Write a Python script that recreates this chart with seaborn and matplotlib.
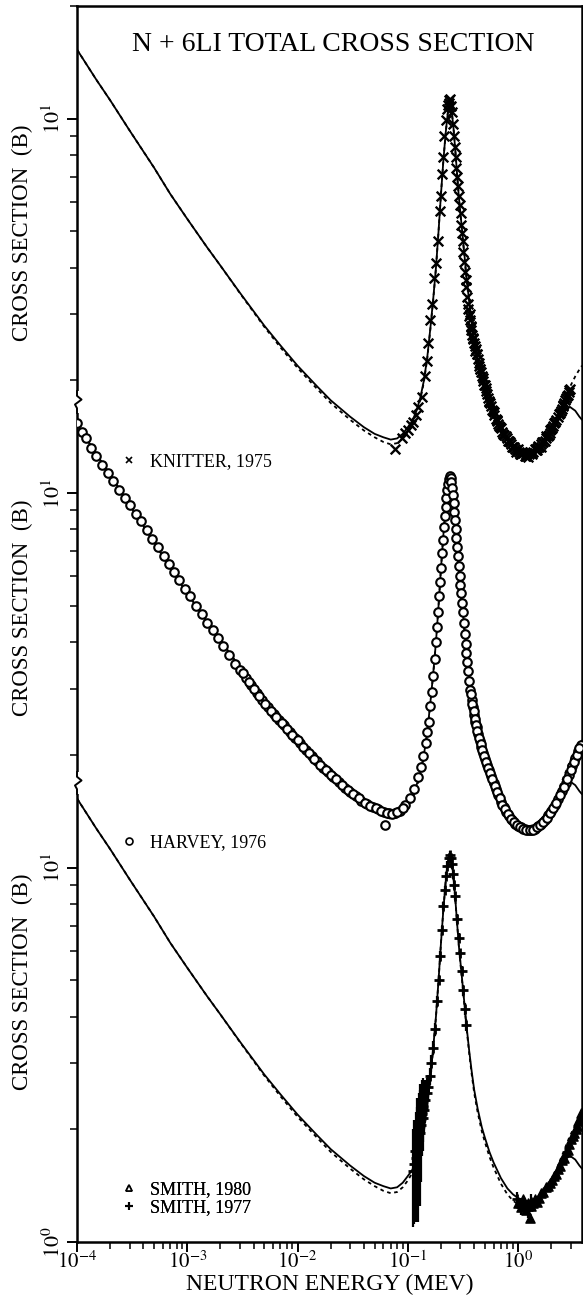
import numpy as np
import pandas as pd
import matplotlib
matplotlib.use("Agg")
import matplotlib.pyplot as plt
import matplotlib.transforms as mtransforms
from matplotlib.lines import Line2D
from matplotlib.patches import Rectangle
from matplotlib.ticker import FixedLocator, FixedFormatter, LogLocator, NullFormatter
import seaborn as sns

# ---------------- data (energies in MeV, cross sections in barns) ----------------
CURVE_E = [1e-4, 1.5e-4, 2e-4, 3e-4, 5e-4, 7e-4, 1e-3, 1.5e-3, 2e-3, 3e-3, 5e-3, 7e-3,
           1e-2, 1.5e-2, 2e-2, 3e-2, 4e-2, 5e-2, 6e-2, 7e-2, 8e-2, 9e-2,
           0.10, 0.11, 0.12, 0.13, 0.14, 0.15, 0.16, 0.17, 0.18, 0.19, 0.20, 0.21, 0.22,
           0.23, 0.24, 0.25, 0.26, 0.27, 0.28, 0.29, 0.30,
           0.32, 0.34, 0.36, 0.38, 0.40, 0.43, 0.47, 0.50, 0.55, 0.60,
           0.7, 0.8, 0.9, 1.0, 1.2, 1.4, 1.6, 1.8, 2.0, 2.3, 2.6, 2.95, 3.3, 3.6, 3.8]
CURVE_SOLID = [15.3, 12.7, 11.2, 9.3, 7.4, 6.3, 5.4, 4.55, 4.05, 3.43, 2.80, 2.48,
               2.19, 1.93, 1.77, 1.60, 1.50, 1.44, 1.41, 1.39, 1.40, 1.44,
               1.50, 1.56, 1.66, 1.80, 2.0, 2.3, 2.75, 3.3, 4.0, 5.0, 6.3, 7.7, 9.1,
               10.3, 10.9, 10.5, 9.4, 8.2, 7.1, 6.2, 5.6,
               4.6, 3.8, 3.25, 2.85, 2.55, 2.27, 2.02, 1.9, 1.74, 1.63,
               1.48, 1.39, 1.34, 1.31, 1.285, 1.30, 1.34, 1.40, 1.46, 1.56, 1.65, 1.70, 1.66, 1.60, 1.57]
CURVE_DOTTED = [15.3, 12.7, 11.2, 9.3, 7.4, 6.3, 5.4, 4.55, 4.05, 3.42, 2.78, 2.45,
                2.16, 1.90, 1.74, 1.57, 1.47, 1.41, 1.37, 1.35, 1.36, 1.40,
                1.46, 1.53, 1.63, 1.78, 1.98, 2.28, 2.73, 3.28, 3.98, 5.0, 6.3, 7.7, 9.1,
                10.3, 10.9, 10.5, 9.4, 8.2, 7.1, 6.2, 5.55,
                4.55, 3.75, 3.2, 2.8, 2.5, 2.22, 1.97, 1.85, 1.69, 1.58,
                1.43, 1.34, 1.29, 1.26, 1.245, 1.265, 1.31, 1.38, 1.46, 1.60, 1.75, 1.92, 2.05, 2.14, 2.19]

KNITTER_1975 = [
    (0.0766, 1.31), (0.088, 1.40), (0.094, 1.45), (0.100, 1.47), (0.106, 1.52), (0.112, 1.55),
    (0.118, 1.62), (0.125, 1.70), (0.134, 1.81), (0.142, 2.05), (0.148, 2.25), (0.154, 2.52),
    (0.160, 2.90), (0.167, 3.20), (0.174, 3.76), (0.181, 4.13), (0.186, 4.70), (0.194, 5.66),
    (0.199, 6.2), (0.204, 7.1), (0.208, 7.9), (0.215, 9.0), (0.221, 9.9), (0.226, 10.6),
    (0.231, 10.9), (0.234, 11.2), (0.238, 11.0), (0.242, 11.3), (0.246, 10.8), (0.250, 10.4),
    (0.256, 9.7), (0.262, 9.0), (0.267, 8.4), (0.271, 7.9), (0.276, 7.4), (0.281, 7.0),
    (0.287, 6.6), (0.293, 6.2), (0.298, 5.9), (0.302, 5.6), (0.306, 5.2), (0.309, 4.95),
    (0.314, 4.7), (0.319, 4.4), (0.324, 4.15), (0.330, 3.9), (0.335, 3.7), (0.340, 3.55),
    (0.345, 3.35), (0.350, 3.2), (0.355, 3.1), (0.360, 2.98), (0.366, 2.9), (0.372, 2.8),
    (0.378, 2.72), (0.384, 2.65), (0.390, 2.58), (0.397, 2.52), (0.404, 2.47), (0.412, 2.42),
    (0.420, 2.36), (0.430, 2.28), (0.440, 2.22), (0.450, 2.15), (0.460, 2.10), (0.470, 2.05),
    (0.485, 1.99), (0.500, 1.94), (0.515, 1.87), (0.535, 1.80), (0.550, 1.75), (0.570, 1.71),
    (0.590, 1.66), (0.610, 1.62), (0.640, 1.57), (0.660, 1.53), (0.690, 1.50), (0.720, 1.46),
    (0.750, 1.43), (0.790, 1.40), (0.820, 1.38), (0.860, 1.35), (0.900, 1.33), (0.940, 1.31),
    (0.980, 1.30), (1.02, 1.29), (1.07, 1.27), (1.12, 1.28), (1.17, 1.26), (1.21, 1.28),
    (1.26, 1.27), (1.32, 1.28), (1.38, 1.29), (1.44, 1.30), (1.50, 1.32), (1.56, 1.33),
    (1.63, 1.35), (1.70, 1.37), (1.78, 1.40), (1.85, 1.42), (1.93, 1.45), (2.00, 1.48),
    (2.08, 1.51), (2.17, 1.55), (2.28, 1.60), (2.38, 1.64), (2.48, 1.68), (2.58, 1.72),
    (2.68, 1.77), (2.78, 1.82), (2.88, 1.86), (2.96, 1.90),
    (0.363, 3.00), (0.375, 2.78), (0.393, 2.60), (0.408, 2.40), (0.425, 2.35), (0.445, 2.18),
    (0.455, 2.14), (0.478, 2.03), (0.492, 1.95), (0.508, 1.91), (0.525, 1.84), (0.542, 1.76),
    (0.560, 1.74), (0.580, 1.67), (0.600, 1.65), (0.625, 1.58), (0.650, 1.56), (0.675, 1.51),
    (0.705, 1.49), (0.735, 1.44), (0.770, 1.42), (0.805, 1.38), (0.840, 1.37), (0.880, 1.33),
    (0.920, 1.33), (0.960, 1.29), (1.00, 1.31), (1.045, 1.27), (1.095, 1.29), (1.145, 1.26),
    (1.19, 1.27), (1.235, 1.25), (1.29, 1.29), (1.35, 1.27), (1.41, 1.31), (1.47, 1.30),
    (1.53, 1.34), (1.60, 1.33), (1.66, 1.37), (1.74, 1.38), (1.81, 1.42), (1.89, 1.43),
    (1.96, 1.47), (2.04, 1.49), (2.12, 1.54), (2.22, 1.57), (2.33, 1.63), (2.43, 1.66),
    (2.53, 1.71), (2.63, 1.74), (2.73, 1.80), (2.83, 1.83), (2.92, 1.89)]

HARVEY_1976 = [
    (1.0e-4, 15.4), (1.1e-4, 14.6), (1.2e-4, 14.0), (1.35e-4, 13.2), (1.5e-4, 12.6), (1.7e-4, 11.9),
    (1.9e-4, 11.3), (2.1e-4, 10.8), (2.4e-4, 10.2), (2.7e-4, 9.7), (3.0e-4, 9.3), (3.4e-4, 8.8),
    (3.8e-4, 8.4), (4.3e-4, 7.95), (4.8e-4, 7.55), (5.4e-4, 7.2), (6.1e-4, 6.8), (6.8e-4, 6.45),
    (7.6e-4, 6.15), (8.5e-4, 5.85), (9.5e-4, 5.55), (1.06e-3, 5.3), (1.2e-3, 5.0), (1.35e-3, 4.75),
    (1.5e-3, 4.5), (1.7e-3, 4.3), (1.9e-3, 4.1), (2.1e-3, 3.9), (2.4e-3, 3.7), (2.7e-3, 3.5),
    (3.0e-3, 3.37), (3.4e-3, 3.2), (3.8e-3, 3.07), (4.3e-3, 2.93), (4.8e-3, 2.8), (5.4e-3, 2.68),
    (6.1e-3, 2.57), (6.8e-3, 2.48), (7.6e-3, 2.4), (8.5e-3, 2.3), (9.5e-3, 2.22), (1.06e-2, 2.15),
    (1.2e-2, 2.06), (1.35e-2, 1.98), (1.5e-2, 1.92), (1.7e-2, 1.85), (1.9e-2, 1.8), (2.1e-2, 1.75),
    (2.4e-2, 1.69), (2.7e-2, 1.63), (3.0e-2, 1.59), (3.4e-2, 1.55), (3.8e-2, 1.51), (4.3e-2, 1.48),
    (4.8e-2, 1.45), (5.4e-2, 1.43), (6.1e-2, 1.41), (6.22e-2, 1.30), (6.8e-2, 1.40), (7.6e-2, 1.40),
    (8.5e-2, 1.42), (9.5e-2, 1.47), (0.105, 1.53), (0.115, 1.62), (0.125, 1.75), (0.132, 1.86),
    (0.138, 1.98), (0.145, 2.15), (0.150, 2.3), (0.155, 2.45), (0.160, 2.7), (0.165, 2.95),
    (0.170, 3.25), (0.175, 3.6), (0.180, 4.0), (0.184, 4.4), (0.188, 4.8), (0.192, 5.3),
    (0.196, 5.8), (0.200, 6.3), (0.204, 6.9), (0.208, 7.5), (0.212, 8.1), (0.216, 8.7),
    (0.220, 9.2), (0.224, 9.7), (0.228, 10.2), (0.232, 10.6), (0.236, 10.9), (0.240, 11.1),
    (0.244, 11.0), (0.248, 10.7), (0.252, 10.3), (0.256, 9.9), (0.260, 9.4), (0.264, 8.9),
    (0.268, 8.5), (0.272, 8.0), (0.276, 7.6), (0.280, 7.2), (0.285, 6.8), (0.290, 6.4),
    (0.295, 6.0), (0.300, 5.7), (0.305, 5.4), (0.310, 5.1), (0.316, 4.8), (0.322, 4.5),
    (0.328, 4.2), (0.334, 3.95), (0.340, 3.75), (0.347, 3.55), (0.354, 3.35), (0.362, 3.15),
    (0.370, 2.98), (0.380, 2.8), (0.390, 2.68), (0.400, 2.56), (0.410, 2.45), (0.420, 2.37),
    (0.435, 2.27), (0.450, 2.18), (0.465, 2.1), (0.480, 2.02), (0.500, 1.95), (0.520, 1.88),
    (0.545, 1.82), (0.570, 1.76), (0.600, 1.68), (0.630, 1.62), (0.660, 1.56), (0.700, 1.50),
    (0.740, 1.45), (0.780, 1.41), (0.830, 1.37), (0.880, 1.34), (0.940, 1.31), (1.00, 1.29),
    (1.07, 1.28), (1.15, 1.27), (1.23, 1.26), (1.32, 1.26), (1.42, 1.27), (1.52, 1.29),
    (1.63, 1.31), (1.75, 1.34), (1.88, 1.38), (2.00, 1.42), (2.15, 1.47), (2.30, 1.52),
    (2.50, 1.60), (2.70, 1.68), (2.90, 1.77), (3.10, 1.87), (3.30, 1.96), (3.50, 2.05), (3.70, 2.12),
    (3.2e-3, 3.30), (3.6e-3, 3.13), (4.0e-3, 3.00), (4.5e-3, 2.87), (5.1e-3, 2.74), (5.7e-3, 2.62),
    (6.4e-3, 2.53), (7.2e-3, 2.44), (8.0e-3, 2.35), (9.0e-3, 2.26), (1.0e-2, 2.19), (1.13e-2, 2.10),
    (1.27e-2, 2.02), (1.42e-2, 1.95), (1.6e-2, 1.88), (1.8e-2, 1.82), (2.0e-2, 1.77), (2.25e-2, 1.72),
    (2.55e-2, 1.66), (2.85e-2, 1.61), (3.2e-2, 1.57), (3.6e-2, 1.53), (4.05e-2, 1.49), (4.55e-2, 1.46),
    (5.1e-2, 1.44), (5.75e-2, 1.42), (6.45e-2, 1.40), (7.2e-2, 1.39), (8.0e-2, 1.41), (9.0e-2, 1.44),
    (0.375, 2.90), (0.385, 2.74), (0.395, 2.62), (0.405, 2.50), (0.415, 2.41), (0.428, 2.32),
    (0.442, 2.22), (0.458, 2.14), (0.472, 2.06), (0.490, 1.98), (0.510, 1.91), (0.532, 1.85),
    (0.558, 1.79), (0.585, 1.72), (0.615, 1.65), (0.645, 1.59), (0.680, 1.53), (0.720, 1.47),
    (0.760, 1.43), (0.805, 1.39), (0.855, 1.35), (0.910, 1.32), (0.970, 1.30), (1.035, 1.28),
    (1.11, 1.27), (1.19, 1.26), (1.275, 1.26), (1.37, 1.26), (1.47, 1.28), (1.575, 1.30),
    (1.69, 1.32), (1.815, 1.36), (1.94, 1.40), (2.07, 1.44), (2.22, 1.49), (2.40, 1.56),
    (2.60, 1.64), (2.80, 1.72), (3.00, 1.82), (3.20, 1.91), (3.40, 2.00), (3.60, 2.09)]

SMITH_1977_E = [0.112, 0.114, 0.116, 0.118, 0.120, 0.122, 0.124, 0.126, 0.128, 0.130,
                0.132, 0.134, 0.136, 0.138, 0.141, 0.144, 0.148, 0.152, 0.158, 0.164,
                0.170, 0.176, 0.183, 0.190, 0.197, 0.204, 0.210, 0.216, 0.222, 0.228,
                0.234, 0.240, 0.246, 0.252, 0.258, 0.264, 0.270, 0.280, 0.290, 0.298,
                0.308, 0.319, 0.330, 0.340, 0.98, 1.06, 1.14, 1.22, 1.30]
SMITH_1977_S = [1.55, 1.62, 1.75, 1.68, 1.82, 1.90, 1.78, 2.00, 1.95, 2.10,
                2.05, 2.20, 2.15, 2.30, 2.25, 2.40, 2.50, 2.60, 2.77, 3.00,
                3.30, 3.70, 4.40, 5.00, 5.80, 6.80, 7.90, 8.70, 9.50, 10.1,
                10.6, 10.8, 10.6, 10.2, 9.6, 9.0, 8.4, 7.3, 6.5, 5.9,
                5.3, 4.7, 4.2, 3.8, 1.30, 1.24, 1.26, 1.22, 1.28]
SMITH_1977_ERR = [0.45, 0.50, 0.35, 0.55, 0.60, 0.40, 0.65, 0.50, 0.70, 0.45,
                  0.60, 0.50, 0.40, 0.45, 0.30, 0.30, 0.25, 0.20, 0.15, 0.15,
                  0.15, 0.15, 0.15, 0.15, 0.20, 0.20, 0.20, 0.25, 0.25, 0.30,
                  0.30, 0.30, 0.30, 0.30, 0.25, 0.25, 0.20, 0.20, 0.20, 0.15,
                  0.15, 0.15, 0.15, 0.15, 0.06, 0.06, 0.06, 0.06, 0.06]

SMITH_1980_E = [1.00, 1.06, 1.12, 1.18, 1.24, 1.285, 1.30, 1.36, 1.42, 1.48,
                1.55, 1.62, 1.70, 1.78, 1.86, 1.95, 2.04, 2.13, 2.22, 2.32,
                2.42, 2.52, 2.62, 2.72, 2.82, 2.92, 3.02, 3.12, 3.22, 3.32,
                3.42, 3.52, 3.62, 3.72]
SMITH_1980_S = [1.27, 1.24, 1.30, 1.22, 1.27, 1.16, 1.25, 1.27, 1.30, 1.28,
                1.31, 1.35, 1.36, 1.40, 1.41, 1.44, 1.46, 1.50, 1.52, 1.57,
                1.60, 1.66, 1.68, 1.74, 1.76, 1.83, 1.88, 1.92, 1.96, 2.00,
                2.04, 2.10, 2.15, 2.21]

PANEL_FACTORS = [100, 10, 1]          # top, middle, bottom panel offsets
Y_TICKS = [1, 10, 100, 1000]
Y_TICK_LABELS = ["$10^0$", "$10^1$", "$10^1$", "$10^1$"]
X_TICKS = [1e-4, 1e-3, 1e-2, 1e-1, 1e0]
X_TICK_LABELS = ["$10^{-4}$", "$10^{-3}$", "$10^{-2}$", "$10^{-1}$", "$10^{0}$"]

TITLE = "N + 6LI TOTAL CROSS SECTION"
XLABEL = "NEUTRON ENERGY (MEV)"
YLABEL = "CROSS SECTION  (B)"

# ---------------- styling ----------------
sns.set_theme(style="ticks")
plt.rcParams["font.family"] = ["Liberation Serif", "DejaVu Serif"]
plt.rcParams["mathtext.fontset"] = "stix"
plt.rcParams["axes.linewidth"] = 1.8

W, H = 583, 1301
fig = plt.figure(figsize=(W / 100, H / 100), dpi=100)
ax = fig.add_axes([77 / W, 1 - 1242 / H, 505 / W, 1236 / H])
ax.set_xscale("log")
ax.set_yscale("log")
ax.set_xlim(1e-4, 3.8)
ax.set_ylim(1, 2000)
for s in ax.spines.values():
    s.set_color("black")
    s.set_linewidth(1.8)

k_e = np.array([p[0] for p in KNITTER_1975]); k_s = np.array([p[1] for p in KNITTER_1975])
h_e = np.array([p[0] for p in HARVEY_1976]); h_s = np.array([p[1] for p in HARVEY_1976])
ce = np.array(CURVE_E)

for f in PANEL_FACTORS:
    sns.lineplot(x=ce, y=np.array(CURVE_DOTTED) * f, ax=ax, color="black", linewidth=1.3,
                 linestyle=(0, (2.0, 2.0)), zorder=2)
    sns.lineplot(x=ce, y=np.array(CURVE_SOLID) * f, ax=ax, color="black", linewidth=1.3, zorder=3)

f_top, f_mid, f_bot = PANEL_FACTORS
# top: Knitter
sns.scatterplot(x=k_e, y=k_s * f_top, ax=ax, marker="x", s=48, color="black", linewidth=1.7, zorder=4)
# middle: Harvey
sns.scatterplot(x=h_e, y=h_s * f_mid, ax=ax, marker="o", s=38, color="white",
                edgecolor="black", linewidth=1.5, zorder=4)
# bottom: Smith
s77_e = np.array(SMITH_1977_E); s77_s = np.array(SMITH_1977_S) * f_bot
ax.errorbar(s77_e, s77_s, yerr=np.array(SMITH_1977_ERR) * f_bot, fmt="none",
            ecolor="black", elinewidth=1.6, capsize=0, zorder=4)
sns.scatterplot(x=s77_e, y=s77_s, ax=ax, marker="+", s=60, color="black", linewidth=2.0, zorder=5)
sns.scatterplot(x=np.array(SMITH_1980_E), y=np.array(SMITH_1980_S) * f_bot, ax=ax, marker="^",
                s=44, color="black", edgecolor="black", linewidth=1.0, zorder=5)

# ---------------- axes / ticks ----------------
ax.xaxis.set_major_locator(FixedLocator(X_TICKS))
ax.xaxis.set_major_formatter(FixedFormatter(X_TICK_LABELS))
ax.xaxis.set_minor_locator(LogLocator(base=10, subs=np.arange(2, 10)))
ax.xaxis.set_minor_formatter(NullFormatter())
ax.yaxis.set_major_locator(FixedLocator(Y_TICKS))
ax.yaxis.set_major_formatter(FixedFormatter(Y_TICK_LABELS))
ax.yaxis.set_minor_locator(LogLocator(base=10, subs=np.arange(2, 10)))
ax.yaxis.set_minor_formatter(NullFormatter())
ax.tick_params(axis="both", which="major", direction="out", length=7, width=1.4,
               color="black", labelcolor="black")
ax.tick_params(axis="both", which="minor", direction="out", length=5, width=1.1, color="black")
ax.tick_params(axis="x", which="major", labelsize=15, pad=0)
ax.tick_params(axis="y", which="major", labelsize=16, pad=2)
ax.tick_params(top=False, right=False, which="both")
for lab in ax.get_yticklabels():
    lab.set_rotation(90)
    lab.set_va("center")
ax.set_xlabel(XLABEL, fontsize=17, labelpad=0, color="black")
ax.set_ylabel("")
ax.grid(False)

# title
ax.text(0.507, 0.969, TITLE, transform=ax.transAxes, ha="center", va="center",
        fontsize=20, color="black")

# y labels for the three panels
blend = mtransforms.blended_transform_factory(ax.transAxes, ax.transData)
for f in PANEL_FACTORS:
    ax.text(-0.108, 4.95 * f, YLABEL, transform=blend, rotation=90, ha="center", va="center",
            fontsize=16.5, color="black")

# axis breaks on left spine
for yb in [0.6796, 0.3714]:
    ax.add_patch(Rectangle((-0.012, yb - 0.009), 0.024, 0.018, transform=ax.transAxes,
                           facecolor="white", edgecolor="none", clip_on=False, zorder=6))
    ax.plot([0, 0, 0.009, -0.004, 0, 0],
            [yb + 0.009, yb + 0.005, yb + 0.002, yb - 0.002, yb - 0.005, yb - 0.009],
            transform=ax.transAxes, color="black", linewidth=1.4, clip_on=False, zorder=7)

# legends
prop = dict(family="Liberation Serif", size=13)
def make_legend(handles, labels, ycen):
    leg = ax.legend(handles, labels, loc="center left", bbox_to_anchor=(0.088, ycen),
                    bbox_transform=ax.transAxes, frameon=False, handlelength=0.85,
                    handletextpad=0.75, borderpad=0, borderaxespad=0, labelspacing=0.05,
                    prop=prop)
    for t in leg.get_texts():
        t.set_color("black")
    ax.add_artist(leg)
    return leg

make_legend([Line2D([], [], marker="x", color="black", ls="none", ms=5, mew=1.2)],
            ["KNITTER, 1975"], 0.631)
make_legend([Line2D([], [], marker="o", color="black", mfc="white", ls="none", ms=5, mew=1.2)],
            ["HARVEY, 1976"], 0.323)
make_legend([Line2D([], [], marker="^", color="black", mfc="white", ls="none", ms=5, mew=1.2),
             Line2D([], [], marker="+", color="black", ls="none", ms=6, mew=1.5)],
            ["SMITH, 1980", "SMITH, 1977"], 0.035)

fig.savefig("out.png", dpi=100, facecolor="white")
